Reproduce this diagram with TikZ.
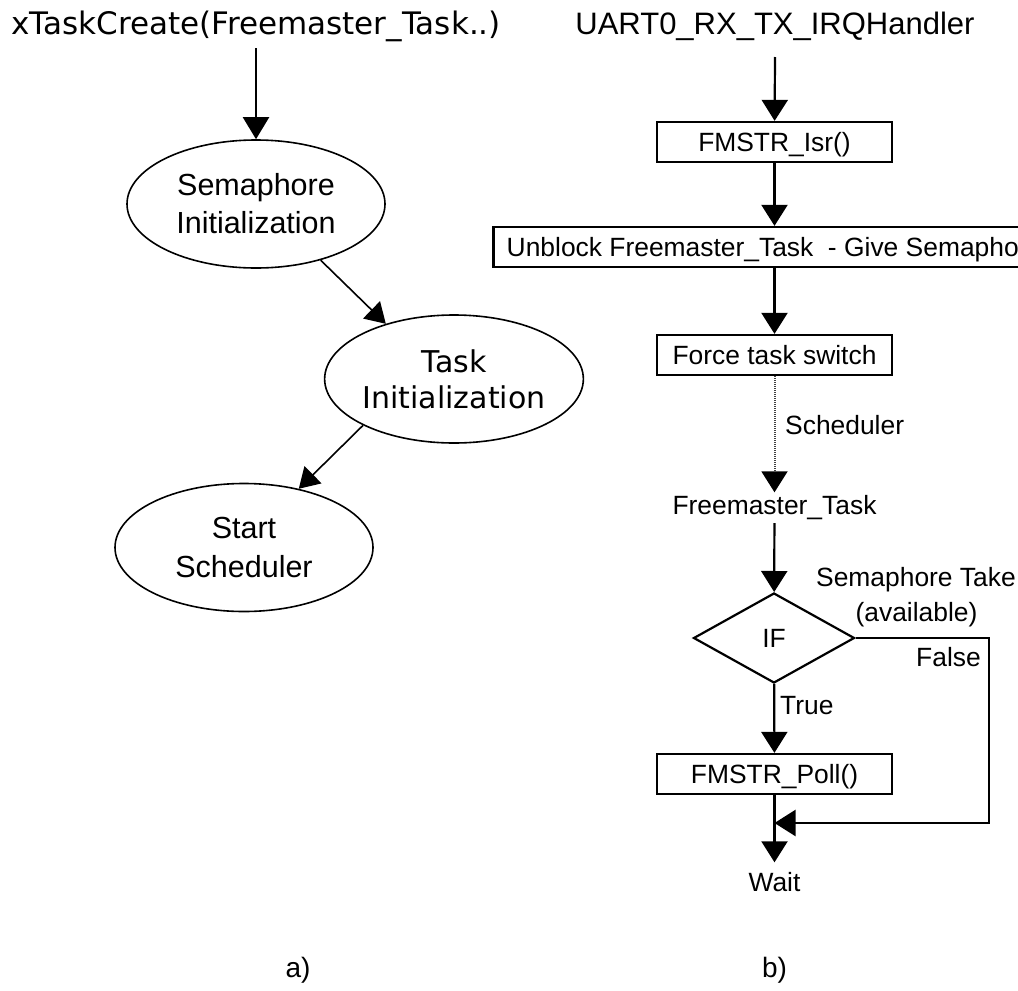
\documentclass[tikz,border=0pt]{standalone}
\usepackage{fontspec}
\newfontfamily\lsans{Liberation Sans}
\newfontfamily\dsans{DejaVu Sans}
\usetikzlibrary{arrows.meta,shapes.geometric}
\begin{document}
\begin{tikzpicture}[x=1pt,y=-1pt,
  rfont/.style={font=\lsans\fontsize{26.4pt}{30pt}\selectfont},
  rbox/.style={draw, line width=2.3pt, rfont, minimum width=235pt, minimum height=40pt,
    inner sep=0pt, text height=19pt, text depth=0pt},
  rtext/.style={rfont, text height=19pt, text depth=5.5pt, inner xsep=0pt, inner ysep=3pt},
  ell/.style={draw, ellipse, line width=1.6pt, minimum width=258pt, minimum height=128pt,
    inner sep=0pt, align=center},
  arr/.style={-{Triangle[length=21pt,width=26pt]}, line width=2.2pt},
  larr/.style={-{Triangle[length=20pt,width=24pt]}, line width=1.6pt},
  dotline/.style={-{Triangle[length=21pt,width=26pt,color=black]}, line width=2pt, draw=black!75, dash pattern=on 1pt off 1pt}
]
\useasboundingbox (0,0) rectangle (1018,991);
\clip (0,0) rectangle (1018,991);
\fill[white] (0,0) rectangle (1018,991);

% ---- a) ----
\node[anchor=base, font=\dsans\fontsize{31pt}{36pt}\selectfont, inner sep=0pt] (lt) at (256,34) {xTaskCreate(Freemaster\_Task..)};
\node[ell, font=\lsans\fontsize{30.5pt}{38pt}\selectfont] (e1) at (256,204) {Semaphore\\Initialization};
\node[ell, font=\dsans\fontsize{30pt}{36pt}\selectfont] (e2) at (454,379) {Task\\Initialization};
\node[ell, font=\lsans\fontsize{30.5pt}{39pt}\selectfont] (e3) at (244,547.5) {Start\\Scheduler};
\draw[arr, -{Triangle[length=22pt,width=26pt]}] ([yshift=-14pt]lt.base) -- (e1);
\draw[larr] (e1.-41) -- (e2.141);
\draw[larr] (e2.207.5) -- (e3.47);
\node[anchor=base, font=\lsans\fontsize{28pt}{32pt}\selectfont, inner sep=0pt] (la) at (298,977) {a)};

% ---- b) ----
\node[anchor=base, font=\lsans\fontsize{31pt}{36pt}\selectfont, inner sep=0pt] (rt) at (775,34) {UART0\_RX\_TX\_IRQHandler};
\node[rbox] (isr) at (774.5,142) {FMSTR\_Isr()};
\node[rbox, minimum width=562pt] (unb) at (774.5,247) {Unblock Freemaster\_Task\ \ - Give Semaphore};
\node[rbox] (fts) at (774.5,355) {Force task switch};
\node[rtext, anchor=base] (fmt) at (774.5,514.5) {Freemaster\_Task};
\node[draw, diamond, line width=2.2pt, minimum width=161pt, minimum height=90pt, inner sep=0pt,
  rfont, text height=19pt, text depth=0pt] (ifd) at (774,638) {IF};
\node[rbox] (poll) at (774.5,774) {FMSTR\_Poll()};
\node[rtext, anchor=base] (wait) at (774.5,891.5) {Wait};
\coordinate (corner) at (989,823);
\coordinate (ret) at (774.5,823);

\draw[arr] ([yshift=-23pt]rt.base) -- (isr);
\draw[arr] (isr) -- (unb);
\draw[arr] (unb) -- (fts);
\draw[dotline] (fts) -- (fmt);
\draw[arr] (fmt) -- (ifd);
\draw[arr] (ifd) -- (poll);
\draw[arr, shorten >=7pt] (poll) -- (wait);
\draw[arr] (ifd.east) -| (corner) -- (ret);

\node[rtext, anchor=base west] (sch) at (785,434.5) {Scheduler};
\node[rtext, anchor=base west] (semt) at (816,586.5) {Semaphore Take};
\node[rtext, anchor=base] (avail) at (916.5,621.5) {(available)};
\node[rtext, anchor=base] (fls) at (948.5,666.5) {False};
\node[rtext, anchor=base west] (tru) at (780,714.5) {True};
\node[anchor=base, font=\lsans\fontsize{28pt}{32pt}\selectfont, inner sep=0pt] (lb) at (774.5,977) {b)};
\end{tikzpicture}
\end{document}
